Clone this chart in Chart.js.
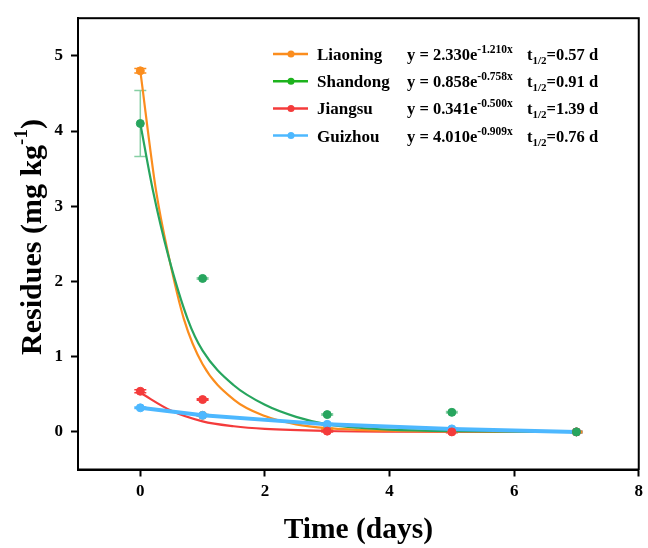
<!DOCTYPE html>
<html>
<head>
<meta charset="utf-8">
<script src="https://cdn.jsdelivr.net/npm/chart.js@4.4.0/dist/chart.umd.min.js"></script>
<style>
  html, body { margin: 0; padding: 0; background: #fff; }
</style>
</head>
<body>
<canvas id="c" width="648" height="548"></canvas>
<script>
const days = [0, 1, 3, 5, 7];
const liaoning = [4.80, 0.22, 0.04, 0.01, 0.00];
const shandong = [4.10, 2.04, 0.23, 0.26, 0.00];
const jiangsu  = [0.54, 0.43, 0.01, 0.00, 0.00];
const guizhou  = [0.32, 0.22, 0.10, 0.04, 0.00];
const liaoningErr = [0.03, 0.01, 0.01, 0.01, 0.01];
const shandongErr = [0.44, 0.01, 0.01, 0.01, 0.01];
const jiangsuErr  = [0.02, 0.01, 0.01, 0.01, 0.01];
const guizhouErr  = [0.01, 0.01, 0.01, 0.01, 0.01];

// fitted decay curves
const fitLnX = [0, 0.25, 0.46, 0.70, 1.0, 1.5, 2.0, 2.5, 3.0, 4.0, 5.0, 7.0];
const fitLnY = [4.80, 3.22, 2.32, 1.50, 0.90, 0.43, 0.21, 0.10, 0.05, 0.015, 0.005, 0];
const fitSdX = [0, 0.20, 0.45, 0.76, 1.0, 1.5, 2.0, 2.5, 3.0, 3.5, 4.0, 5.0, 7.0];
const fitSdY = [4.10, 3.22, 2.34, 1.50, 1.08, 0.62, 0.36, 0.20, 0.10, 0.055, 0.03, 0.01, 0];
const fitJsX = [0, 0.5, 1.0, 1.5, 2.0, 3.0, 4.0, 7.0];
const fitJsY = [0.52, 0.28, 0.14, 0.075, 0.04, 0.012, 0.004, 0];

const xTicks = [0, 2, 4, 6, 8];
const yTicks = [0, 1, 2, 3, 4, 5];

const legendNames = ['Liaoning', 'Shandong', 'Jiangsu', 'Guizhou'];
const legendCoef = ['2.330', '0.858', '0.341', '4.010'];
const legendRate = ['-1.210x', '-0.758x', '-0.500x', '-0.909x'];
const legendHalf = ['0.57', '0.91', '1.39', '0.76'];

const orange = '#fb8d1e';
const green = '#27a55e';
const red = '#f43b3b';
const blue = '#4db8ff';
const legendColors = [orange, '#1db31d', red, blue];
const FONT = "'Liberation Serif', 'Times New Roman', serif";

function pts(xs, ys) {
  return xs.map((x, i) => ({ x: x, y: ys[i] }));
}

function curve(label, xs, ys, color, order) {
  return {
    label: label, data: pts(xs, ys), borderColor: color, borderWidth: 2.2,
    pointRadius: 0, showLine: true, cubicInterpolationMode: 'monotone', order: order
  };
}

function scatter(label, ys, color, err, order) {
  return {
    label: label, data: pts(days, ys), err: err, showLine: false,
    pointRadius: 4, pointBorderWidth: 1,
    pointBackgroundColor: color, pointBorderColor: color, order: order
  };
}

const errorBars = {
  id: 'errorBars',
  beforeDatasetsDraw(chart) {
    const ctx = chart.ctx;
    const xs = chart.scales.x, ys = chart.scales.y;
    chart.data.datasets.forEach(ds => {
      if (!ds.err) return;
      ctx.save();
      ctx.strokeStyle = ds.errColor || ds.pointBorderColor;
      ctx.lineWidth = 1.5;
      ds.data.forEach((p, i) => {
        const px = xs.getPixelForValue(p.x);
        const t = ys.getPixelForValue(p.y + ds.err[i]);
        const b = ys.getPixelForValue(p.y - ds.err[i]);
        ctx.beginPath();
        ctx.moveTo(px, t); ctx.lineTo(px, b);
        ctx.moveTo(px - 6, t); ctx.lineTo(px + 6, t);
        ctx.moveTo(px - 6, b); ctx.lineTo(px + 6, b);
        ctx.stroke();
      });
      ctx.restore();
    });
  }
};

// text with super/subscripts: parts = [[text, size, shift]]
function drawRich(ctx, x, y, parts) {
  parts.forEach(p => {
    ctx.font = 'bold ' + p[1] + 'px ' + FONT;
    ctx.fillText(p[0], x, y + p[2]);
    x += ctx.measureText(p[0]).width;
  });
  return x;
}

function richWidth(ctx, parts) {
  let w = 0;
  parts.forEach(p => {
    ctx.font = 'bold ' + p[1] + 'px ' + FONT;
    w += ctx.measureText(p[0]).width;
  });
  return w;
}

const decorations = {
  id: 'decorations',
  afterDraw(chart) {
    const ctx = chart.ctx;
    const a = chart.chartArea;
    ctx.save();
    // box frame
    ctx.strokeStyle = '#000';
    ctx.lineWidth = 2;
    ctx.strokeRect(a.left, a.top, a.right - a.left, a.bottom - a.top);

    // y axis title
    const yTitle = [['Residues (mg kg', 30, 0], ['-1', 19, -11], [')', 30, 0]];
    const w = richWidth(ctx, yTitle);
    ctx.translate(33, 237);
    ctx.rotate(-Math.PI / 2);
    ctx.fillStyle = '#000';
    ctx.textBaseline = 'middle';
    drawRich(ctx, -w / 2, 0, yTitle);
    ctx.restore();

    // legend
    ctx.save();
    ctx.textBaseline = 'alphabetic';
    legendNames.forEach((name, i) => {
      const cy = 54 + i * 27.2;
      ctx.strokeStyle = legendColors[i];
      ctx.fillStyle = legendColors[i];
      ctx.lineWidth = 2.5;
      ctx.beginPath();
      ctx.moveTo(273, cy); ctx.lineTo(308, cy);
      ctx.stroke();
      ctx.beginPath();
      ctx.arc(291, cy, 3.5, 0, Math.PI * 2);
      ctx.fill();
      ctx.fillStyle = '#000';
      const base = cy + 6;
      drawRich(ctx, 317, base, [[name, 17, 0]]);
      drawRich(ctx, 407, base, [['y = ' + legendCoef[i] + 'e', 16.5, 0], [legendRate[i], 11.5, -7]]);
      drawRich(ctx, 527, base, [['t', 16.5, 0], ['1/2', 11, 4], ['=' + legendHalf[i] + ' d', 16.5, 0]]);
    });
    ctx.restore();
  }
};

const tickFont = { family: FONT, size: 17, weight: 'bold' };

new Chart(document.getElementById('c'), {
  type: 'line',
  data: {
    datasets: [
      Object.assign(scatter('Shandong', shandong, green, shandongErr, 1), { errColor: '#86cfa4' }),
      scatter('Jiangsu', jiangsu, red, jiangsuErr, 2),
      Object.assign(scatter('Guizhou', guizhou, blue, guizhouErr, 3),
        { showLine: true, borderColor: blue, borderWidth: 4 }),
      scatter('Liaoning', liaoning, orange, liaoningErr, 4),
      curve('Shandong fit', fitSdX, fitSdY, green, 5),
      curve('Liaoning fit', fitLnX, fitLnY, orange, 6),
      curve('Jiangsu fit', fitJsX, fitJsY, red, 7)
    ]
  },
  options: {
    responsive: false,
    animation: false,
    layout: { padding: { top: 14, right: 7, left: 0, bottom: 0 } },
    plugins: { legend: { display: false }, tooltip: { enabled: false } },
    scales: {
      x: {
        type: 'linear', min: -1, max: 8,
        afterBuildTicks: s => { s.ticks = xTicks.map(v => ({ value: v })); },
        afterFit: s => { s.height = 78.5; },
        grid: { display: true, drawOnChartArea: false, drawTicks: true, tickLength: 7, tickWidth: 2, tickColor: '#000' },
        border: { display: true, color: '#000', width: 2 },
        ticks: { font: tickFont, color: '#000', padding: 5, maxRotation: 0 },
        title: { display: true, text: 'Time (days)', color: '#000',
          font: { family: FONT, size: 29.5, weight: 'bold' }, padding: { top: 0, bottom: 0 } }
      },
      y: {
        type: 'linear', min: -0.5, max: 5.5,
        afterBuildTicks: s => { s.ticks = yTicks.map(v => ({ value: v })); },
        afterFit: s => { s.width = 78; },
        grid: { display: true, drawOnChartArea: false, drawTicks: true, tickLength: 7, tickWidth: 2, tickColor: '#000' },
        border: { display: true, color: '#000', width: 2 },
        ticks: { font: tickFont, color: '#000', padding: 8 }
      }
    }
  },
  plugins: [errorBars, decorations]
});
</script>
</body>
</html>
